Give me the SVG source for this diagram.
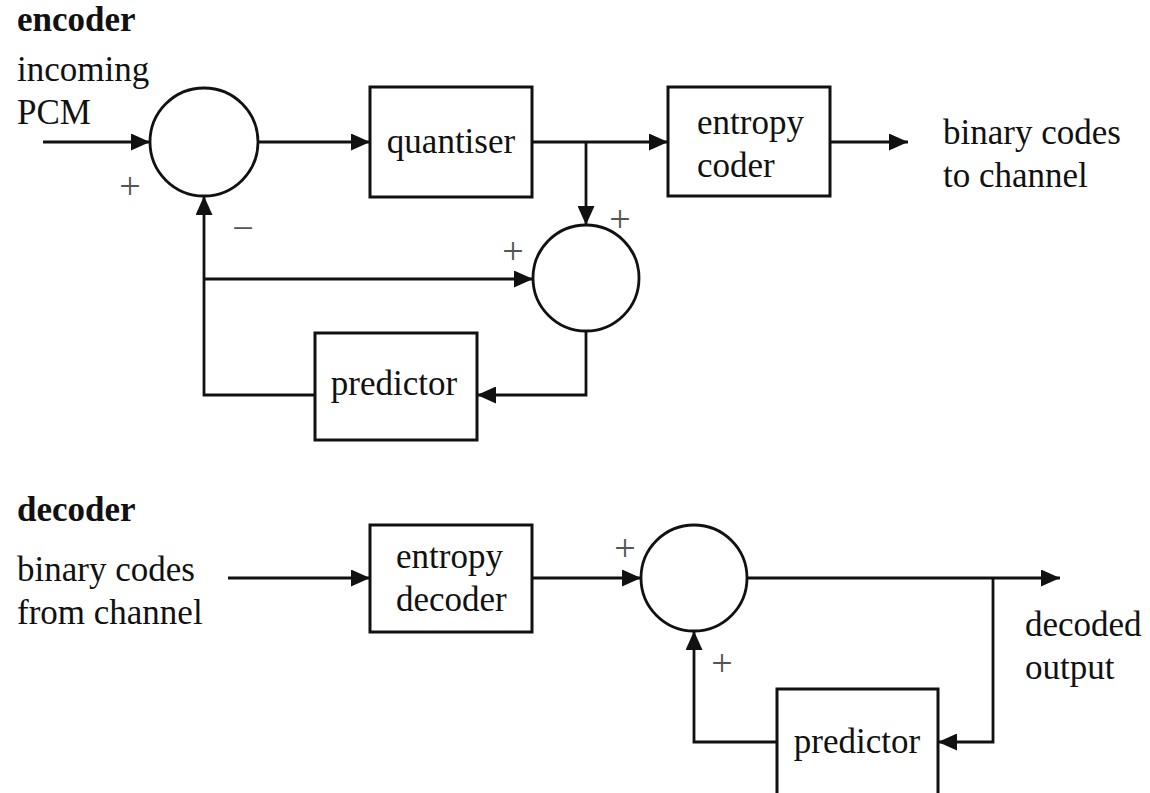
<svg xmlns="http://www.w3.org/2000/svg" width="1150" height="793" viewBox="0 0 1150 793">
<defs>
<style>
.t{font-family:"Liberation Serif","Times New Roman",serif;font-size:35px;fill:#111}
.b{font-weight:bold}
.s{font-family:"Liberation Serif","Times New Roman",serif;font-size:38px;fill:#555}
.box{fill:#fff;stroke:#111;stroke-width:3}
.sum{fill:#fff;stroke:#111;stroke-width:2.8}
.ln{fill:none;stroke:#111;stroke-width:2.8}
</style>
<marker id="ah" viewBox="0 0 19 17" refX="19" refY="8.5" markerWidth="19" markerHeight="17" markerUnits="userSpaceOnUse" orient="auto">
<path d="M0,0 L19,8.5 L0,17 z" fill="#111"/>
</marker>
</defs>
<rect width="1150" height="793" fill="#fff"/>

<text class="t b" x="17" y="31">encoder</text>
<text class="t" x="17" y="81">incoming</text>
<text class="t" x="17" y="124">PCM</text>
<text class="t" x="943" y="144">binary codes</text>
<text class="t" x="943" y="187">to channel</text>

<text class="t b" x="17" y="521">decoder</text>
<text class="t" x="17" y="581">binary codes</text>
<text class="t" x="17" y="624">from channel</text>
<text class="t" x="1025" y="636">decoded</text>
<text class="t" x="1025" y="679">output</text>

<g id="connectors">
<path class="ln" d="M43,142 H150" marker-end="url(#ah)"/>
<path class="ln" d="M258,142 H370" marker-end="url(#ah)"/>
<path class="ln" d="M532,142 H668" marker-end="url(#ah)"/>
<path class="ln" d="M830,142 H908" marker-end="url(#ah)"/>
<path class="ln" d="M586,142 V225" marker-end="url(#ah)"/>
<path class="ln" d="M204,279 H533" marker-end="url(#ah)"/>
<path class="ln" d="M315,395 H204 V196" marker-end="url(#ah)"/>
<path class="ln" d="M586,331 V395 H477" marker-end="url(#ah)"/>

<path class="ln" d="M228,578 H370" marker-end="url(#ah)"/>
<path class="ln" d="M532,578 H641" marker-end="url(#ah)"/>
<path class="ln" d="M747,578 H1060" marker-end="url(#ah)"/>
<path class="ln" d="M993,578 V742 H938" marker-end="url(#ah)"/>
<path class="ln" d="M777,742 H694 V631" marker-end="url(#ah)"/>
</g>

<g id="sum1">
<circle class="sum" cx="204" cy="142" r="54"/>
<text class="s" x="130" y="199" text-anchor="middle">+</text>
<text class="s" x="243" y="241" text-anchor="middle">−</text>
</g>
<g id="quantiser">
<rect class="box" x="370" y="87" width="162" height="110"/>
<text class="t" x="451" y="153" text-anchor="middle">quantiser</text>
</g>
<g id="entropy-coder">
<rect class="box" x="668" y="87" width="162" height="109"/>
<text class="t" x="697" y="134">entropy</text>
<text class="t" x="697" y="177">coder</text>
</g>
<g id="sum2">
<circle class="sum" cx="586" cy="278" r="53"/>
<text class="s" x="620" y="232" text-anchor="middle">+</text>
<text class="s" x="513" y="264" text-anchor="middle">+</text>
</g>
<g id="predictor-enc">
<rect class="box" x="315" y="333" width="162" height="107"/>
<text class="t" x="394" y="395" text-anchor="middle">predictor</text>
</g>

<g id="entropy-decoder">
<rect class="box" x="370" y="525" width="162" height="107"/>
<text class="t" x="396" y="568">entropy</text>
<text class="t" x="396" y="611">decoder</text>
</g>
<g id="sum3">
<circle class="sum" cx="694" cy="578" r="53"/>
<text class="s" x="625" y="561" text-anchor="middle">+</text>
<text class="s" x="722" y="676" text-anchor="middle">+</text>
</g>
<g id="predictor-dec">
<rect class="box" x="777" y="689" width="161" height="110"/>
<text class="t" x="857" y="753" text-anchor="middle">predictor</text>
</g>
</svg>
